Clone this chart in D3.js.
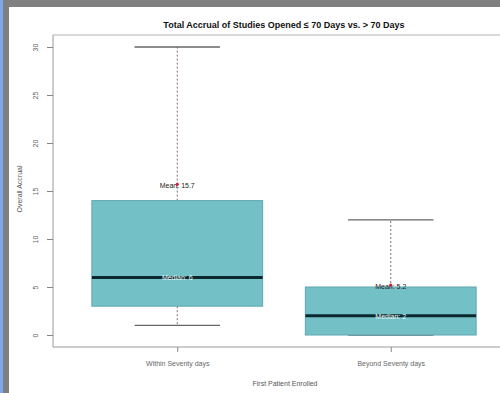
<!DOCTYPE html>
<html><head><meta charset="utf-8">
<script src="https://cdn.jsdelivr.net/npm/d3@7"></script>
<style>
html,body{margin:0;padding:0;background:#fff;}
svg{display:block;}
text{font-family:"Liberation Sans",Arial,sans-serif;}
</style></head>
<body>
<script>
const categories = ["Within Seventy days", "Beyond Seventy days"];
const whiskerLow = [1, 0];
const q1 = [3, 0];
const medians = [6, 2];
const q3 = [14, 5];
const whiskerHigh = [30, 12];
const means = [15.7, 5.2];
const meanLabels = ["Mean: 15.7", "Mean: 5.2"];
const medianLabels = ["Median: 6", "Median: 2"];
const yTicks = [0, 5, 10, 15, 20, 25, 30];

const W = 500, H = 393;
const svg = d3.select("body").append("svg").attr("width", W).attr("height", H);

// frame decorations of the screenshot
svg.append("rect").attr("x",0).attr("y",0).attr("width",W).attr("height",7).attr("fill","#808080");
svg.append("rect").attr("x",0).attr("y",0).attr("width",9).attr("height",H).attr("fill","#7f7f7f");
svg.append("rect").attr("x",0).attr("y",0).attr("width",3).attr("height",H).attr("fill","#7aa9ee");

const plotLeft = 53, plotTop = 35, plotBottom = 347;
const y = d3.scaleLinear().domain([0, 30]).range([335, 47]);
const x = d3.scalePoint().domain(categories).range([plotLeft, 515]).padding(0.582);
const step = x.step();
const boxW = step * 0.8;
const capW = boxW / 2;

// top light line and frame lines
svg.append("line").attr("x1",plotLeft).attr("x2",W).attr("y1",plotTop).attr("y2",plotTop)
  .attr("stroke","#d8d8d8").attr("stroke-width",2);
svg.append("line").attr("x1",plotLeft).attr("x2",plotLeft).attr("y1",plotTop).attr("y2",plotBottom)
  .attr("stroke","#9a9a9a").attr("stroke-width",1);
svg.append("line").attr("x1",plotLeft).attr("x2",W).attr("y1",plotBottom).attr("y2",plotBottom)
  .attr("stroke","#9a9a9a").attr("stroke-width",1);

// y axis
const yAxis = d3.axisLeft(y).tickValues(yTicks).tickSize(6).tickSizeOuter(0).tickPadding(8);
const gy = svg.append("g").attr("transform",`translate(${plotLeft},0)`).call(yAxis);
gy.select(".domain").remove();
gy.selectAll(".tick line").attr("stroke","#888");
gy.selectAll(".tick text").attr("fill","#666").attr("font-size",7)
  .attr("text-anchor","middle").attr("x",0).attr("dy",0)
  .attr("transform","translate(-15,0) rotate(-90)");

// x axis
const xAxis = d3.axisBottom(x).tickSize(5).tickSizeOuter(0).tickPadding(9);
const gx = svg.append("g").attr("transform",`translate(0,${plotBottom})`).call(xAxis);
gx.select(".domain").remove();
gx.selectAll(".tick line").attr("stroke","#888");
gx.selectAll(".tick text").attr("fill","#666").attr("font-size",7);

const idx = d3.range(categories.length);

// whiskers
const g = svg.append("g");
g.selectAll("line.whiskHi").data(idx).join("line")
  .attr("x1", i => x(categories[i])).attr("x2", i => x(categories[i]))
  .attr("y1", i => y(q3[i])).attr("y2", i => y(whiskerHigh[i]))
  .attr("stroke","#8a6a72").attr("stroke-width",1).attr("stroke-dasharray","2,2");
g.selectAll("line.whiskLo").data(idx).join("line")
  .attr("x1", i => x(categories[i])).attr("x2", i => x(categories[i]))
  .attr("y1", i => y(q1[i])).attr("y2", i => y(whiskerLow[i]))
  .attr("stroke","#8a6a72").attr("stroke-width",1).attr("stroke-dasharray","2,2");
g.selectAll("line.capHi").data(idx).join("line")
  .attr("x1", i => x(categories[i]) - capW/2).attr("x2", i => x(categories[i]) + capW/2)
  .attr("y1", i => y(whiskerHigh[i])).attr("y2", i => y(whiskerHigh[i]))
  .attr("stroke","#666").attr("stroke-width",1.3);
g.selectAll("line.capLo").data(idx).join("line")
  .attr("x1", i => x(categories[i]) - capW/2).attr("x2", i => x(categories[i]) + capW/2)
  .attr("y1", i => y(whiskerLow[i])).attr("y2", i => y(whiskerLow[i]))
  .attr("stroke","#666").attr("stroke-width",1.3);

// boxes
g.selectAll("rect.box").data(idx).join("rect")
  .attr("x", i => x(categories[i]) - boxW/2).attr("width", boxW)
  .attr("y", i => y(q3[i])).attr("height", i => y(q1[i]) - y(q3[i]))
  .attr("fill","#74c0c7").attr("stroke","#5fa7ae").attr("stroke-width",1);

// medians
g.selectAll("line.med").data(idx).join("line")
  .attr("x1", i => x(categories[i]) - boxW/2).attr("x2", i => x(categories[i]) + boxW/2)
  .attr("y1", i => y(medians[i])).attr("y2", i => y(medians[i]))
  .attr("stroke","#0b2a30").attr("stroke-width",3);
g.selectAll("text.med").data(idx).join("text")
  .attr("x", i => x(categories[i])).attr("y", i => y(medians[i]) + 3)
  .attr("text-anchor","middle").attr("font-size",7).attr("fill","#f2fbfb")
  .text(i => medianLabels[i]);

// means
g.selectAll("text.mean").data(idx).join("text")
  .attr("x", i => x(categories[i])).attr("y", i => y(means[i]) + 4)
  .attr("text-anchor","middle").attr("font-size",7).attr("fill","#222")
  .text(i => meanLabels[i]);
g.selectAll("circle.mean").data(idx).join("circle")
  .attr("cx", i => x(categories[i])).attr("cy", i => y(means[i]))
  .attr("r", 1.6).attr("fill","#d0203a");

// title and labels
svg.append("text").attr("x", 284).attr("y", 28).attr("text-anchor","middle")
  .attr("font-size", 9).attr("font-weight","bold").attr("fill","#111")
  .text("Total Accrual of Studies Opened \u2264 70 Days vs. > 70 Days");
svg.append("text").attr("transform","translate(22,189) rotate(-90)").attr("text-anchor","middle")
  .attr("font-size",7).attr("fill","#555").text("Overall Accrual");
svg.append("text").attr("x", 285).attr("y", 386).attr("text-anchor","middle")
  .attr("font-size",7).attr("fill","#555").text("First Patient Enrolled");
</script>
</body></html>
